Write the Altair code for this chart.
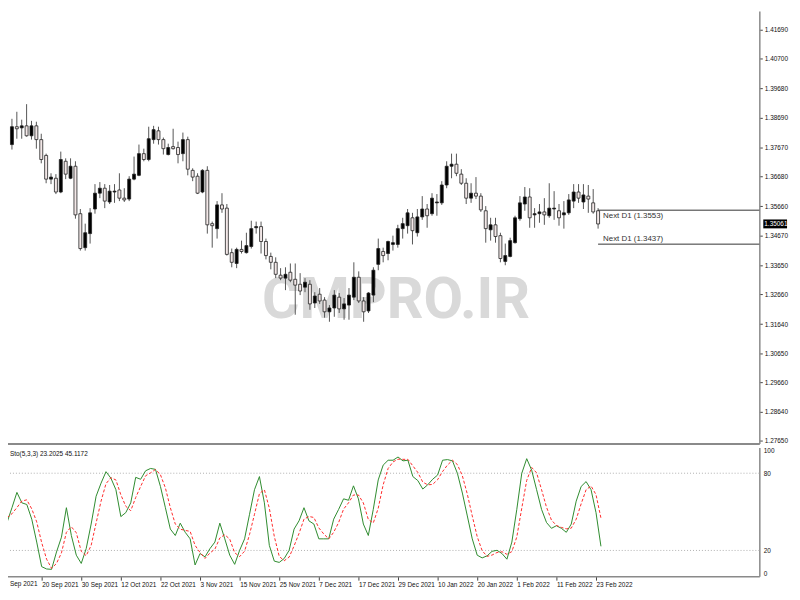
import json
import altair as alt
import pandas as pd

# ---------------- data (GBPUSD, D1) ----------------
open_ = [1.3777,1.3838,1.3834,1.3841,1.3807,1.3841,1.3794,1.3740,1.3659,1.3662,
         1.3615,1.3720,1.3662,1.3703,1.3541,1.3425,1.3473,1.3557,1.3611,1.3628,
         1.3581,1.3615,1.3622,1.3594,1.3591,1.3659,1.3672,1.3746,1.3726,1.3794,
         1.3824,1.3794,1.3743,1.3770,1.3767,1.3746,1.3794,1.3689,1.3669,1.3615,
         1.3689,1.3507,1.3490,1.3571,1.3560,1.3408,1.3371,1.3419,1.3408,1.3429,
         1.3493,1.3497,1.3446,1.3395,1.3375,1.3331,1.3321,1.3341,1.3317,1.3300,
         1.3290,1.3300,1.3236,1.3266,1.3246,1.3206,1.3219,1.3256,1.3216,1.3229,
         1.3256,1.3324,1.3243,1.3209,1.3263,1.3368,1.3412,1.3405,1.3436,1.3436,
         1.3490,1.3500,1.3527,1.3476,1.3530,1.3557,1.3541,1.3578,1.3578,1.3639,
         1.3703,1.3710,1.3676,1.3645,1.3594,1.3611,1.3601,1.3551,1.3486,1.3503,
         1.3466,1.3378,1.3395,1.3442,1.3524,1.3574,1.3598,1.3537,1.3541,1.3547,
         1.3534,1.3557,1.3551,1.3537,1.3544,1.3584,1.3615,1.3581,1.3601,1.3578,
         1.3551]
close = [1.3838,1.3831,1.3841,1.3807,1.3841,1.3794,1.3726,1.3659,1.3666,1.3615,
         1.3726,1.3676,1.3703,1.3537,1.3422,1.3476,1.3544,1.3611,1.3628,1.3584,
         1.3618,1.3618,1.3594,1.3588,1.3659,1.3676,1.3746,1.3726,1.3797,1.3828,
         1.3794,1.3763,1.3767,1.3763,1.3743,1.3794,1.3693,1.3666,1.3611,1.3689,
         1.3503,1.3500,1.3571,1.3557,1.3402,1.3375,1.3419,1.3412,1.3432,1.3490,
         1.3497,1.3446,1.3398,1.3375,1.3334,1.3321,1.3334,1.3314,1.3297,1.3277,
         1.3307,1.3233,1.3260,1.3243,1.3206,1.3219,1.3263,1.3216,1.3233,1.3263,
         1.3324,1.3243,1.3206,1.3270,1.3348,1.3422,1.3398,1.3446,1.3442,1.3490,
         1.3507,1.3544,1.3483,1.3530,1.3557,1.3534,1.3594,1.3581,1.3639,1.3703,
         1.3710,1.3679,1.3645,1.3594,1.3611,1.3601,1.3554,1.3490,1.3503,1.3463,
         1.3388,1.3398,1.3449,1.3527,1.3578,1.3598,1.3527,1.3541,1.3547,1.3537,
         1.3560,1.3560,1.3527,1.3544,1.3588,1.3615,1.3594,1.3605,1.3591,1.3547,
         1.3506]
high = [1.3865,1.3889,1.3862,1.3915,1.3858,1.3855,1.3814,1.3746,1.3679,1.3676,
        1.3753,1.3730,1.3730,1.3720,1.3557,1.3507,1.3560,1.3642,1.3649,1.3642,
        1.3639,1.3642,1.3679,1.3628,1.3669,1.3736,1.3777,1.3763,1.3838,1.3841,
        1.3838,1.3801,1.3780,1.3831,1.3787,1.3818,1.3804,1.3696,1.3679,1.3693,
        1.3703,1.3514,1.3584,1.3611,1.3574,1.3422,1.3425,1.3449,1.3476,1.3517,
        1.3514,1.3514,1.3456,1.3408,1.3392,1.3355,1.3358,1.3371,1.3371,1.3338,
        1.3321,1.3314,1.3273,1.3287,1.3256,1.3229,1.3280,1.3270,1.3253,1.3287,
        1.3375,1.3344,1.3256,1.3273,1.3358,1.3456,1.3425,1.3449,1.3466,1.3503,
        1.3527,1.3557,1.3544,1.3557,1.3601,1.3574,1.3611,1.3608,1.3652,1.3720,
        1.3746,1.3746,1.3693,1.3662,1.3645,1.3666,1.3611,1.3567,1.3527,1.3527,
        1.3476,1.3439,1.3459,1.3534,1.3601,1.3632,1.3628,1.3560,1.3574,1.3594,
        1.3645,1.3618,1.3574,1.3584,1.3608,1.3642,1.3642,1.3642,1.3639,1.3625,
        1.3560]
low = [1.3760,1.3797,1.3797,1.3804,1.3794,1.3763,1.3713,1.3645,1.3642,1.3608,
       1.3611,1.3659,1.3659,1.3524,1.3415,1.3415,1.3439,1.3541,1.3594,1.3560,
       1.3574,1.3578,1.3584,1.3581,1.3584,1.3655,1.3669,1.3720,1.3720,1.3780,
       1.3777,1.3743,1.3740,1.3760,1.3713,1.3720,1.3672,1.3652,1.3608,1.3611,
       1.3473,1.3425,1.3456,1.3544,1.3398,1.3358,1.3355,1.3405,1.3405,1.3422,
       1.3473,1.3405,1.3385,1.3351,1.3321,1.3314,1.3280,1.3307,1.3196,1.3263,
       1.3273,1.3213,1.3219,1.3233,1.3186,1.3172,1.3189,1.3202,1.3179,1.3179,
       1.3246,1.3236,1.3172,1.3202,1.3239,1.3348,1.3375,1.3382,1.3415,1.3425,
       1.3456,1.3473,1.3436,1.3463,1.3520,1.3493,1.3534,1.3534,1.3571,1.3628,
       1.3662,1.3669,1.3639,1.3574,1.3578,1.3591,1.3547,1.3442,1.3449,1.3442,
       1.3375,1.3365,1.3392,1.3439,1.3517,1.3551,1.3493,1.3493,1.3510,1.3503,
       1.3527,1.3520,1.3500,1.3490,1.3537,1.3560,1.3578,1.3557,1.3544,1.3541,
       1.3490]

stoch_k = [41.7,53.2,65.1,57.0,55.7,44.3,26.5,7.4,5.6,5.3,
           18.8,30.3,53.2,31.6,16.3,9.9,21.4,40.5,62.1,72.3,
           81.2,76.1,67.2,46.3,49.4,57.0,76.8,75.3,81.9,83.7,
           83.0,69.7,53.2,36.6,31.6,41.2,34.1,29.0,8.7,17.6,
           15.0,21.4,26.5,41.2,29.0,16.3,9.2,20.1,29.0,48.1,
           67.2,77.4,57.0,23.9,11.7,10.7,13.7,20.1,36.6,43.0,
           53.2,43.0,40.5,29.0,29.0,29.0,44.3,51.9,60.1,59.0,
           70.2,60.1,40.5,31.6,51.9,74.8,86.3,90.1,90.1,92.6,
           89.6,90.1,77.4,74.3,67.7,71.0,75.3,78.6,90.1,90.6,
           89.6,79.9,64.6,46.8,29.0,16.3,14.2,15.8,19.3,20.1,
           17.6,13.2,26.5,51.9,79.9,91.3,82.4,67.2,51.9,41.7,
           37.2,39.2,37.2,34.1,40.5,58.3,69.7,73.5,67.2,49.4,
           23.2025]
stoch_d = [45.5,48.5,53.3,58.4,59.3,52.3,42.2,26.1,13.2,6.1,
           9.9,18.1,34.1,38.4,33.7,19.3,15.9,23.9,41.3,58.3,
           71.9,76.5,74.8,63.2,54.3,50.9,61.1,69.7,78.0,80.3,
           82.9,78.8,68.6,53.2,40.5,36.5,35.6,34.8,23.9,18.4,
           13.8,18.0,21.0,29.7,32.2,28.8,18.2,15.2,19.4,32.4,
           48.1,64.2,67.2,52.8,30.9,15.4,12.0,14.8,23.5,33.2,
           44.3,46.4,45.6,37.5,32.8,29.0,34.1,41.7,52.1,57.0,
           63.1,63.1,56.9,44.1,41.3,52.8,71.0,83.7,88.8,90.9,
           90.8,90.8,85.7,80.6,73.1,71.0,71.3,75.0,81.3,86.4,
           90.1,86.7,78.0,63.8,46.8,30.7,19.8,15.4,16.4,18.4,
           19.0,17.0,19.1,30.5,52.8,74.4,84.5,80.3,67.2,53.6,
           43.6,39.4,37.9,36.8,37.3,44.3,56.2,67.2,70.1,63.4,
           45.1172]

price_ticks = [1.41690,1.40700,1.39680,1.38690,1.37670,1.36680,1.35660,1.34670,
               1.33650,1.32660,1.31640,1.30650,1.29660,1.28640,1.27650]
date_ticks = [7,15,23,31,39,47,55,63,71,79,87,95,103,111,119]
date_labels = ["20 Sep 2021","30 Sep 2021","12 Oct 2021","22 Oct 2021","3 Nov 2021",
               "15 Nov 2021","25 Nov 2021","7 Dec 2021","17 Dec 2021","29 Dec 2021",
               "10 Jan 2022","20 Jan 2022","1 Feb 2022","11 Feb 2022","23 Feb 2022"]
next_levels = [1.3553, 1.3437]
next_labels = ["Next D1 (1.3553)", "Next D1 (1.3437)"]
current_price = 1.35061
stoch_levels = [20, 80]

# ---------------- tables ----------------
n = len(open_)
df = pd.DataFrame({"i": list(range(n)), "open": open_, "high": high, "low": low,
                   "close": close, "k": stoch_k, "d": stoch_d})
df_next = pd.DataFrame({"i": [n - 1] * 2, "level": next_levels, "label": next_labels})
df_cur = pd.DataFrame({"price": [current_price], "label": [f"{current_price:.5f}"]})
df_lvl = pd.DataFrame({"lvl": stoch_levels})
one = pd.DataFrame({"a": [0]})

FONT = "Liberation Sans"
W = 761
H_TOP = 437
H_BOT = 130
AX = "#8a8a8a"
FS = 6.5

xscale = alt.Scale(domain=[-0.2, 152.0], nice=False, zero=False)
pscale = alt.Scale(domain=[1.27562, 1.42333], nice=False, zero=False)
sscale = alt.Scale(domain=[0, 100], nice=False, zero=False)

x_top_axis = alt.Axis(labels=False, ticks=False, grid=False, title=None,
                      domainColor=AX, domainWidth=2)
y_price_axis = alt.Axis(orient="right", values=price_ticks, format=".5f", grid=False,
                        title=None, tickSize=3, tickColor="#444", labelFontSize=FS,
                        labelFont=FONT, labelPadding=2, labelColor="#111",
                        domainColor=AX, domainWidth=1.5, labelFlush=False,
                        labelOverlap=False, labelBound=False)

watermark = alt.Chart(one).mark_text(
    text="CMPRO.IR", font="Roboto", fontWeight="bold", fontSize=58, color="#d9d9d9",
    align="center", baseline="middle"
).encode(x=alt.value(394), y=alt.value(293))

wicks = alt.Chart(df).mark_rule(color="#555555", strokeWidth=1).encode(
    x=alt.X("i:Q", scale=xscale, axis=x_top_axis),
    y=alt.Y("low:Q", scale=pscale, axis=y_price_axis),
    y2="high:Q",
)
bodies = alt.Chart(df).mark_bar(width=3, stroke="#222222", strokeWidth=0.8).encode(
    x=alt.X("i:Q", scale=xscale, axis=x_top_axis),
    y=alt.Y("open:Q", scale=pscale, axis=y_price_axis),
    y2="close:Q",
    fill=alt.condition("datum.close >= datum.open", alt.value("#000000"), alt.value("#f3e8e8")),
)
next_rules = alt.Chart(df_next).mark_rule(color="#333333", strokeWidth=1).encode(
    x=alt.X("i:Q", scale=xscale, axis=x_top_axis), x2=alt.value(W),
    y=alt.Y("level:Q", scale=pscale, axis=y_price_axis)
)
next_txt_hi = alt.Chart(df_next).transform_filter("datum.level > 1.35").mark_text(
    align="left", baseline="middle", dx=5, dy=6, fontSize=8, font=FONT, color="#333333"
).encode(x=alt.X("i:Q", scale=xscale, axis=x_top_axis),
         y=alt.Y("level:Q", scale=pscale, axis=y_price_axis), text="label:N")
next_txt_lo = alt.Chart(df_next).transform_filter("datum.level < 1.35").mark_text(
    align="left", baseline="middle", dx=5, dy=-5, fontSize=8, font=FONT, color="#333333"
).encode(x=alt.X("i:Q", scale=xscale, axis=x_top_axis),
         y=alt.Y("level:Q", scale=pscale, axis=y_price_axis), text="label:N")
cur_box = alt.Chart(df_cur).mark_rule(color="#000000", strokeWidth=9, strokeCap="butt").encode(
    x=alt.value(W + 4), x2=alt.value(W + 28), y=alt.Y("price:Q", scale=pscale, axis=y_price_axis)
)
cur_txt = alt.Chart(df_cur).mark_text(
    align="left", baseline="middle", fontSize=FS, font=FONT, color="#ffffff"
).encode(x=alt.value(W + 5), y=alt.Y("price:Q", scale=pscale, axis=y_price_axis), text="label:N")

top = alt.layer(watermark, wicks, bodies, next_rules, next_txt_hi, next_txt_lo,
                cur_box, cur_txt).properties(width=W, height=H_TOP)

# ---------------- stochastic pane ----------------
label_expr = f"{json.dumps(date_labels)}[indexof({json.dumps(date_ticks)}, datum.value)]"
x_bot_axis = alt.Axis(values=date_ticks, labelExpr=label_expr, labelAlign="left",
                      labelBaseline="top", labelFontSize=FS, labelFont=FONT,
                      labelColor="#111", labelPadding=1, labelOverlap=False,
                      labelFlush=False, labelBound=False, tickSize=4, tickColor="#444",
                      grid=False, title=None, domainColor=AX, domainWidth=1.5)
y_sto_axis = alt.Axis(orient="right", values=[0, 20, 80, 100], grid=False, title=None,
                      ticks=False, labelFontSize=FS, labelFont=FONT, labelColor="#111",
                      labelPadding=4, labelFlush=True, labelOverlap=False,
                      domainColor=AX, domainWidth=1.5)

lvl_rules = alt.Chart(df_lvl).mark_rule(color="#b0b0b0", strokeDash=[1, 2], strokeWidth=1).encode(
    y=alt.Y("lvl:Q", scale=sscale, axis=y_sto_axis)
)
k_line = alt.Chart(df).mark_line(color="#2e8b2e", strokeWidth=1).encode(
    x=alt.X("i:Q", scale=xscale, axis=x_bot_axis),
    y=alt.Y("k:Q", scale=sscale, axis=y_sto_axis)
)
d_line = alt.Chart(df).mark_line(color="#ff2a2a", strokeWidth=1, strokeDash=[3, 2]).encode(
    x=alt.X("i:Q", scale=xscale, axis=x_bot_axis),
    y=alt.Y("d:Q", scale=sscale, axis=y_sto_axis)
)
sto_title = alt.Chart(one).mark_text(
    text=f"Sto(5,3,3) {stoch_k[-1]:.4f} {stoch_d[-1]:.4f}", align="left", baseline="middle",
    fontSize=FS, font=FONT, color="#111"
).encode(x=alt.value(4), y=alt.value(7))
first_date = alt.Chart(one).mark_text(
    text="Sep 2021", align="left", baseline="top", fontSize=FS, font=FONT, color="#111"
).encode(x=alt.value(4), y=alt.value(H_BOT + 5))

bottom = alt.layer(lvl_rules, k_line, d_line, sto_title, first_date).properties(
    width=W, height=H_BOT)

chart = alt.vconcat(top, bottom, spacing=3).properties(
    padding={"left": -3, "top": 0, "right": 0, "bottom": 0},
    background="#ffffff",
).configure_view(stroke=None).configure_axis(labelOverlap=False)

chart.save("out.html", embed_options={"renderer": "svg", "actions": False})
